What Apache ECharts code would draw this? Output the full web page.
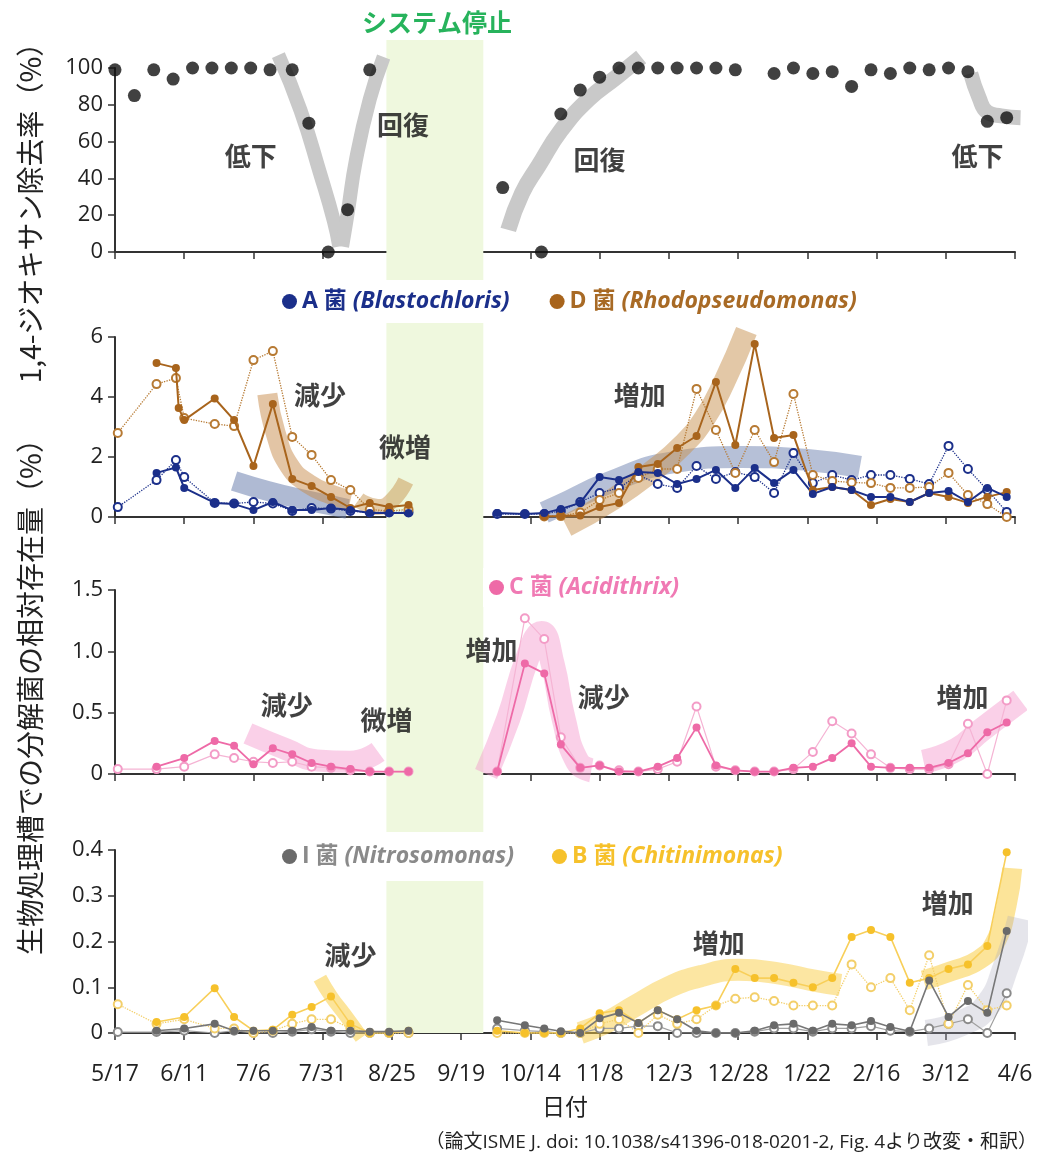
<!DOCTYPE html>
<html><head><meta charset="utf-8">
<script src="https://cdn.jsdelivr.net/npm/echarts@6/dist/echarts.min.js"></script>
<style>html,body{margin:0;padding:0;background:#fff}#c{width:1043px;height:1165px}</style>
</head><body><div id="c"></div>
<script>
// ---------- data (days counted from 5/17) ----------
const xTickLabels = ['5/17','6/11','7/6','7/31','8/25','9/19','10/14','11/8','12/3','12/28','1/22','2/16','3/12','4/6'];
const stopStart = 98, stopEnd = 133;

const removalDays = [0,7,14,21,28,35,42,49,56,64,70,77,84,92, 140,154,161,168,175,182,189,196,203,210,217,224, 238,245,252,259,266,273,280,287,294,301,308,315,322];
const removalRate = [99,85,99,94,100,100,100,100,99,99,70,0,23,99, 35,0,75,88,95,100,100,100,100,100,100,99, 97,100,97,98,90,99,97,100,99,100,98,71,73];

const daysL = [1,15,22,23,25,36,43,50,57,64,71,78,85,92,99,106];
const daysR = [138,148,155,161,168,175,182,189,196,203,210,217,224,231,238,245,252,259,266,273,280,287,294,301,308,315,322];

const aFilledL = [null,1.47,1.65,null,0.97,0.47,0.43,0.23,0.5,0.23,0.23,0.3,0.23,0.13,0.13,0.13];
const aFilledR = [0.13,0.1,0.13,0.27,0.47,1.33,1.23,1.5,1.47,1.1,1.27,1.57,0.97,1.63,1.13,1.57,0.77,1.0,0.9,0.67,0.67,0.5,0.8,0.87,0.5,0.97,0.67];
const aOpenL = [0.33,1.23,1.9,null,1.33,0.47,0.45,0.5,0.45,0.2,0.3,0.28,0.2,0.15,0.15,0.15];
const aOpenR = [0.1,0.1,0.1,0.2,0.5,0.8,0.97,1.4,1.1,0.97,1.7,1.27,1.5,1.33,0.8,2.13,1.13,1.4,1.23,1.4,1.4,1.27,1.1,2.37,1.6,0.9,0.17];
const dFilledL = [null,5.13,4.97,3.63,3.23,3.95,3.23,1.7,3.77,1.27,1.03,0.67,0.3,0.47,0.33,0.4];
const dFilledR = [null,null,0.02,0.03,0.05,0.33,0.47,1.67,1.77,2.3,2.7,4.5,2.4,5.77,2.63,2.73,0.9,1.0,0.9,0.4,0.6,0.5,0.8,0.67,0.47,0.67,0.83];
const dOpenL = [2.8,4.43,4.63,null,3.3,3.1,3.03,5.23,5.53,2.67,2.07,1.23,0.9,0.25,0.2,0.25];
const dOpenR = [null,null,0.02,0.03,0.15,0.57,0.8,1.3,1.6,1.6,4.27,2.9,1.47,2.9,1.83,4.1,1.4,1.2,1.15,1.13,0.97,0.97,1.0,1.47,0.73,0.43,0.0];

const cFilledL = [null,0.06,null,null,0.13,0.27,0.23,0.08,0.21,0.16,0.09,0.06,0.04,0.02,0.02,0.02];
const cFilledR = [0.02,0.9,0.82,0.24,0.05,0.07,0.02,0.02,0.06,0.13,0.38,0.07,0.03,0.02,0.02,0.05,0.06,0.13,0.25,0.06,0.05,0.05,0.05,0.09,0.17,0.34,0.42];
const cOpenL = [0.04,0.04,null,null,0.06,0.16,0.13,0.1,0.09,0.1,0.06,0.05,0.03,0.02,0.02,0.02];
const cOpenR = [0.02,1.27,1.1,0.3,0.05,0.07,0.03,0.02,0.04,0.1,0.55,0.06,0.03,0.02,0.02,0.04,0.18,0.43,0.33,0.16,0.05,0.04,0.04,0.08,0.41,0.0,0.6];

const iFilledL = [null,0.005,null,null,0.01,0.02,0.005,0.005,0.005,0.005,0.013,0.005,0.005,0.003,0.003,0.005];
const iFilledR = [0.028,0.017,0.01,0.004,0.0,0.032,0.044,0.022,0.05,0.03,0.005,0.0,0.0,0.005,0.017,0.02,0.005,0.02,0.017,0.026,0.013,0.004,0.115,0.035,0.07,0.044,0.223];
const iOpenL = [0.002,0.002,null,null,0.005,0.0,0.005,0.0,0.0,0.003,0.008,0.003,0.0,0.0,0.0,0.0];
const iOpenR = [0.01,0.005,0.003,0.0,0.0,0.01,0.01,0.015,0.015,0.0,0.0,0.0,0.0,0.003,0.01,0.01,0.003,0.01,0.01,0.015,0.005,0.003,0.01,0.02,0.03,0.0,0.087];
const bFilledL = [null,0.024,null,null,0.035,0.098,0.035,0.005,0.007,0.04,0.057,0.08,0.02,0.0,0.0,0.005];
const bFilledR = [0.005,0.0,0.0,0.0,0.01,0.043,0.05,0.022,0.05,0.03,0.05,0.06,0.14,0.12,0.12,0.11,0.1,0.12,0.21,0.225,0.21,0.11,0.12,0.14,0.15,0.19,0.395];
const bOpenL = [0.063,0.02,null,null,0.03,0.01,0.01,0.0,0.005,0.02,0.03,0.03,0.01,0.0,0.0,0.0];
const bOpenR = [0.0,0.0,0.0,0.0,0.0,0.02,0.03,0.0,0.04,0.02,0.03,0.06,0.075,0.078,0.07,0.06,0.06,0.06,0.15,0.1,0.12,0.05,0.17,0.02,0.105,0.05,0.06];

// hand-drawn trend highlights [day, value]
const trendTopDrop1 = [[59,107],[67,77],[74,43],[79,17],[81,3]];
const trendTopRise1 = [[82,3],[84,21],[87,50],[92,83],[97,106]];
const trendTopRise2 = [[142,12],[147,32],[153,47],[161,66],[171,83],[181,95],[190,106]];
const trendTopDrop2 = [[309,97],[312,84],[315,76],[320,74],[327,73]];
const trendNavyDrop = [[43,1.2],[55,0.87],[67,0.6],[80,0.35],[84,0.27]];
const trendBrownDrop = [[55,4.1],[58,2.8],[63,1.7],[70,1.1],[78,0.75],[85,0.55]];
const trendBrownUp = [[88,0.57],[95,0.33],[100,0.55],[105,1.2]];
const trendBrownRise = [[163,-0.3],[180,0.6],[195,1.6],[205,2.4],[213,3.3],[220,4.5],[228,6.2]];
const trendNavyRise = [[155,0.15],[161,0.4],[178,1.13],[202,1.83],[226,2.0],[250,1.9],[269,1.67]];
const trendPinkDrop = [[48,0.33],[62,0.2],[73,0.11],[85,0.1],[95,0.18]];
const trendPinkPeak = [[134,0.0],[142,0.45],[149,0.95],[154,1.15],[158,0.9],[162,0.45],[167,0.1],[172,0.03]];
const trendPinkRise = [[292,0.1],[304,0.2],[313,0.36],[327,0.6]];
const trendYellowDrop = [[74,0.12],[78,0.08],[83,0.04],[89,-0.01]];
const trendYellowRise = [[168,0.0],[178,0.025],[188,0.06],[200,0.1],[212,0.125],[225,0.138],[240,0.13],[252,0.115],[262,0.105]];
const trendYellowRise2 = [[292,0.115],[302,0.135],[312,0.16],[318,0.2],[322,0.28],[324,0.36]];
const trendGrayRise = [[293,0.0],[305,0.02],[315,0.06],[322,0.15],[327,0.25]];

// annotation words [day, value, text]
const notes1 = [[49,52,'低下'],[104,69,'回復'],[175,50,'回復'],[311.5,52,'低下']];
const notes2 = [[74,4.07,'減少'],[104.7,2.33,'微増'],[189.5,4.07,'増加']];
const notes3 = [[62,0.56,'減少'],[98,0.44,'微増'],[136,1.01,'増加'],[176.5,0.63,'減少'],[306,0.63,'増加']];
const notes4 = [[85,0.17,'減少'],[218,0.197,'増加'],[300.7,0.284,'増加']];

// ---------- build ----------
const JP = '"Noto Sans CJK JP", sans-serif';
const LAT = '"Open Sans", "Noto Sans CJK JP", sans-serif';
const NAVY = '#1b2f8a', BROWN = '#a8641c', PINK = '#ee6aa7', GRAY = '#6a6a6a', YEL = '#f6c12b';

function pts(vl, vr) {
  const out = [];
  daysL.forEach((d, i) => { if (vl[i] != null) out.push([d, vl[i]]); });
  out.push([(stopStart + stopEnd) / 2, '-']);
  daysR.forEach((d, i) => { if (vr[i] != null) out.push([d, vr[i]]); });
  return out;
}
function dataSeries(name, g, data, color, filled, dotted, lineColor, lw) {
  return {
    name, type: 'line', xAxisIndex: g, yAxisIndex: g, data, animation: false,
    symbol: filled ? 'circle' : 'emptyCircle', symbolSize: 8, connectNulls: false,
    itemStyle: { color: color, borderColor: color, borderWidth: filled ? 0 : 1.5 },
    lineStyle: { color: lineColor || color, width: lw || (filled ? 2 : 1.3), type: dotted ? 'dotted' : 'solid' },
    z: filled ? 6 : 5
  };
}
function trend(g, data, color, width) {
  return { type: 'line', xAxisIndex: g, yAxisIndex: g, data, smooth: 0.5, symbol: 'none', silent: true,
    clip: false, animation: false, lineStyle: { color, width, cap: 'butt' }, z: 2 };
}
function notes(g, arr) {
  return { type: 'scatter', xAxisIndex: g, yAxisIndex: g, symbolSize: 0, silent: true, animation: false, z: 9,
    data: arr.map(a => ({ value: [a[0], a[1]], name: a[2] })),
    label: { show: true, position: 'inside', formatter: '{b}', fontSize: 26, fontWeight: 'bold', color: '#111', fontFamily: JP } };
}

const gridTops = [68, 337, 590, 850], gridHeights = [184, 180, 184, 183];
const yMax = [100, 6, 1.5, 0.4], yInt = [20, 2, 0.5, 0.1];
const grids = gridTops.map((t, i) => ({ left: 115, right: 28, top: t, height: gridHeights[i] }));
grids.push({ left: 115, right: 28, top: 40, height: 993 });

const axisLine = { show: true, lineStyle: { color: '#333', width: 2 } };
const xAxes = [0, 1, 2, 3].map(i => ({
  type: 'value', gridIndex: i, min: 0, max: 325, interval: 25,
  axisLine, axisTick: { show: true, length: 7, lineStyle: { color: '#333', width: 1.5 } },
  splitLine: { show: false },
  axisLabel: { show: i === 3, fontSize: 23, color: '#222', fontFamily: LAT, margin: 30,
    formatter: v => xTickLabels[Math.round(v / 25)] },
  name: i === 3 ? '日付' : '', nameLocation: 'middle', nameGap: 62,
  nameTextStyle: { fontSize: 23, color: '#222', fontFamily: JP }
}));
xAxes.push({ type: 'value', gridIndex: 4, min: 0, max: 325, show: false });
const yAxes = [0, 1, 2, 3].map(i => ({
  type: 'value', gridIndex: i, min: 0, max: yMax[i], interval: yInt[i],
  axisLine, axisTick: { show: true, length: 7, lineStyle: { color: '#333', width: 1.5 } },
  splitLine: { show: false },
  axisLabel: { fontSize: 22, color: '#222', fontFamily: LAT, margin: 12,
    formatter: v => (i === 2 && v !== 0) ? v.toFixed(1) : String(+v.toFixed(2)) }
}));
yAxes.push({ type: 'value', gridIndex: 4, min: 0, max: 1, show: false });

const series = [
  { type: 'line', xAxisIndex: 4, yAxisIndex: 4, data: [[stopStart, 0]], symbol: 'none', silent: true,
    lineStyle: { opacity: 0 }, z: 0, animation: false,
    markArea: { silent: true, itemStyle: { color: '#eff8de' }, data: [[{ xAxis: stopStart }, { xAxis: stopEnd }]] } },
  // panel 1
  trend(0, trendTopDrop1, '#c9c9c9', 14), trend(0, trendTopRise1, '#c9c9c9', 14),
  trend(0, trendTopRise2, '#c9c9c9', 16), trend(0, trendTopDrop2, '#c9c9c9', 15),
  { type: 'scatter', xAxisIndex: 0, yAxisIndex: 0, symbolSize: 13, itemStyle: { color: '#111' }, z: 6, animation: false,
    data: removalDays.map((d, i) => [d, removalRate[i]]) },
  notes(0, notes1),
  // panel 2
  trend(1, trendNavyDrop, 'rgba(110,130,175,0.55)', 20), trend(1, trendNavyRise, 'rgba(110,130,175,0.5)', 22),
  trend(1, trendBrownDrop, 'rgba(200,140,75,0.5)', 20), trend(1, trendBrownUp, 'rgba(200,150,80,0.5)', 16),
  trend(1, trendBrownRise, 'rgba(200,145,80,0.5)', 22),
  dataSeries('A 菌 (Blastochloris) open', 1, pts(aOpenL, aOpenR), NAVY, false, true),
  dataSeries('D 菌 (Rhodopseudomonas) open', 1, pts(dOpenL, dOpenR), '#b77a33', false, true),
  dataSeries('D 菌 (Rhodopseudomonas)', 1, pts(dFilledL, dFilledR), BROWN, true, false),
  dataSeries('A 菌 (Blastochloris)', 1, pts(aFilledL, aFilledR), NAVY, true, false),
  notes(1, notes2),
  // panel 3
  trend(2, trendPinkDrop, 'rgba(245,150,205,0.45)', 22), trend(2, trendPinkPeak, 'rgba(245,150,205,0.45)', 24),
  trend(2, trendPinkRise, 'rgba(245,150,205,0.45)', 24),
  dataSeries('C 菌 open', 2, pts(cOpenL, cOpenR), '#f39cc7', false, false, '#f5b4d4', 1.2),
  dataSeries('C 菌 (Acidithrix)', 2, pts(cFilledL, cFilledR), PINK, true, false, PINK, 1.8),
  notes(2, notes3),
  // panel 4
  trend(3, trendYellowDrop, 'rgba(250,205,70,0.55)', 14), trend(3, trendYellowRise, 'rgba(250,205,70,0.5)', 22),
  trend(3, trendYellowRise2, 'rgba(250,205,70,0.55)', 20), trend(3, trendGrayRise, 'rgba(170,170,190,0.3)', 26),
  dataSeries('I 菌 open', 3, pts(iOpenL, iOpenR), '#8a8a8a', false, false, '#a0a0a0', 1.2),
  dataSeries('B 菌 open', 3, pts(bOpenL, bOpenR), '#f3cf6a', false, true, '#f3cf6a', 1.3),
  dataSeries('B 菌 (Chitinimonas)', 3, pts(bFilledL, bFilledR), YEL, true, false, '#f8cf5a', 1.6),
  dataSeries('I 菌 (Nitrosomonas)', 3, pts(iFilledL, iFilledR), GRAY, true, false, '#777', 1.6),
  notes(3, notes4)
];

function legendFmt(name) {
  const m = name.match(/^(\S+ 菌) (\(.*\))$/);
  const key = name[0];
  return '{n' + key + '|' + m[1] + ' }{i' + key + '|' + m[2] + '}';
}
const richBase = { fontSize: 23, fontWeight: 'bold', fontFamily: '"Open Sans", "Noto Sans CJK JP", sans-serif' };
const rich = {};
[['A', NAVY], ['D', '#a86a25'], ['C', '#f07ab4'], ['I', '#8a8a8a'], ['B', '#f6c12b']].forEach(([k, c]) => {
  rich['n' + k] = Object.assign({}, richBase, { color: c });
  rich['i' + k] = Object.assign({}, richBase, { color: c, fontStyle: 'italic' });
});
function legend(left, top, names, pad, gap) {
  return { left, top, data: names, icon: 'circle', itemWidth: 15, itemHeight: 15, itemGap: gap,
    backgroundColor: '#fff', padding: pad, z: 20, selectedMode: false,
    formatter: legendFmt, textStyle: { rich } };
}

const option = {
  backgroundColor: '#fff', animation: false,
  grid: grids, xAxis: xAxes, yAxis: yAxes, series,
  legend: [
    legend(276, 280, ['A 菌 (Blastochloris)', 'D 菌 (Rhodopseudomonas)'], [10, 6], 40),
    legend(483, 568, ['C 菌 (Acidithrix)'], [8, 6], 30),
    legend(276, 832, ['I 菌 (Nitrosomonas)', 'B 菌 (Chitinimonas)'], [13, 6], 38)
  ],
  graphic: [
    { type: 'text', x: 437, y: 22, z: 30, style: { text: 'システム停止', fill: '#27b35c', font: 'bold 25px "Noto Sans CJK JP"', textAlign: 'center', textVerticalAlign: 'middle', align: 'center', verticalAlign: 'middle' } },
    { type: 'text', x: 30, y: 206, rotation: Math.PI / 2, z: 30, style: { text: '1,4-ジオキサン除去率（%）', fill: '#222', font: '28px "Noto Sans CJK JP"', textAlign: 'center', textVerticalAlign: 'middle', align: 'center', verticalAlign: 'middle' } },
    { type: 'text', x: 30, y: 690, rotation: Math.PI / 2, z: 30, style: { text: '生物処理槽での分解菌の相対存在量（%）', fill: '#222', font: '28px "Noto Sans CJK JP"', textAlign: 'center', textVerticalAlign: 'middle', align: 'center', verticalAlign: 'middle' } },
    { type: 'text', x: 1037, y: 1143, z: 30, style: { text: '（論文ISME J. doi: 10.1038/s41396-018-0201-2, Fig. 4より改変・和訳）', fill: '#222', font: '19px "Open Sans", "Noto Sans CJK JP"', textAlign: 'right', textVerticalAlign: 'middle', align: 'right', verticalAlign: 'middle' } }
  ]
};
const chart = echarts.init(document.getElementById('c'), null, { renderer: 'canvas' });
chart.setOption(option);
</script>
</body></html>
